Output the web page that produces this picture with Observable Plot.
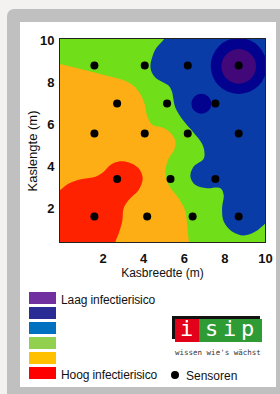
<!DOCTYPE html>
<html>
<head>
<meta charset="utf-8">
<script src="https://cdn.jsdelivr.net/npm/d3@7"></script>
<script src="https://cdn.jsdelivr.net/npm/@observablehq/plot@0.6"></script>
<style>
  html, body { margin: 0; padding: 0; background: #f3f2f0; width: 280px; height: 394px; overflow: hidden; font-family: "Liberation Sans", Arial, sans-serif; }
  #frame { position: absolute; left: 7px; top: 9px; width: 290px; height: 400px; background: #c0c0c0; border-radius: 7px; }
  #panel { position: absolute; left: 20px; top: 22px; width: 256px; height: 365px; background: #fff; }
  #chart { position: absolute; left: 0; top: 0; }
  #ytitle { position: absolute; left: 31.7px; top: 151px; width: 0; height: 0; }
  #ytitle span { position: absolute; left: 0; top: 0; transform: translate(-50%, -50%) rotate(-90deg); font-size: 13px; color: #111; white-space: nowrap; line-height: 13px; }
  .sw { position: absolute; left: 29px; width: 27px; height: 12px; }
  .lt { position: absolute; left: 61px; font-size: 12px; color: #111; white-space: nowrap; line-height: 12px; letter-spacing: -0.1px; }
  #logoShadow { position: absolute; left: 172px; top: 316px; width: 88px; height: 23px; background: #111; }
  .lbox { position: absolute; top: 319px; height: 23px; }
  .lch { position: absolute; top: 316px; font-family: "DejaVu Sans Mono", monospace; font-size: 22px; color: #fff; line-height: 26px; }
  #tag { position: absolute; left: 175px; top: 348px; font-family: "DejaVu Sans Mono", monospace; font-size: 7.5px; color: #333; white-space: nowrap; line-height: 9px; }
  #sdot { position: absolute; left: 171px; top: 371px; width: 8px; height: 8px; border-radius: 50%; background: #000; }
  #stxt { position: absolute; left: 186px; top: 370px; font-size: 12px; color: #111; line-height: 12px; }
</style>
</head>
<body>
<div id="frame"></div>
<div id="panel"></div>
<div id="chart"></div>
<div id="ytitle"><span></span></div>
<div id="legend"></div>
<script>
// Sensor positions (m)
const sensorX = [1.57, 4.05, 6.17, 8.68, 2.69, 5.15, 7.53, 1.57, 4.05, 6.17, 8.68, 2.69, 5.32, 7.53, 1.57, 4.17, 6.41, 8.68];
const sensorY = [8.84, 8.84, 8.84, 8.84, 7.03, 7.03, 7.03, 5.60, 5.60, 5.60, 5.60, 3.43, 3.43, 3.43, 1.64, 1.64, 1.64, 1.64];

// Risk zone boundaries (m)
const orangeZone = [
  [-0.35, 8.97], [0.64, 8.73], [1.62, 8.50], [2.44, 8.29], [3.10, 8.10], [3.51, 7.86], [3.84, 7.46],
  [4.05, 6.99], [4.17, 6.43], [4.41, 6.03], [4.91, 5.88], [5.32, 5.64], [5.56, 5.22], [5.49, 4.80],
  [5.23, 4.41], [5.07, 3.78], [5.23, 3.14], [5.72, 2.51], [6.05, 1.88], [6.14, 1.24], [6.22, 0.45],
  [6.25, 0.03], [6.28, -0.6], [6.3, -1.5], [-1.5, -1.5], [-1.5, 9.2]
];
const redZone = [
  [-0.35, 2.75], [0.31, 3.22], [0.97, 3.43], [1.62, 3.54], [2.03, 3.78], [2.36, 4.10], [2.77, 4.26],
  [3.26, 4.22], [3.75, 3.94], [3.95, 3.46], [3.75, 2.90], [3.26, 2.43], [3.01, 2.03], [2.94, 1.40],
  [2.77, 0.84], [2.61, 0.45], [2.51, 0.03], [2.46, -0.6], [2.4, -1.5], [-1.5, -1.5], [-1.5, 2.3]
];
const blueZone = [
  [5.17, 10.51], [5.02, 10.13], [4.60, 9.65], [4.41, 9.21], [4.33, 8.81], [4.40, 8.51], [4.58, 8.26],
  [4.92, 8.06], [5.22, 7.89], [5.39, 7.60], [5.45, 7.30], [5.56, 6.83], [5.97, 6.19], [6.46, 5.64],
  [6.79, 5.24], [6.96, 4.89], [6.96, 4.41], [6.46, 4.02], [6.30, 3.54], [6.55, 3.14], [7.12, 2.99],
  [7.78, 2.99], [7.94, 2.67], [7.86, 2.03], [7.94, 1.40], [8.35, 0.92], [8.93, 0.73], [9.50, 0.92],
  [9.91, 1.24], [10.34, 1.60], [11.5, 2.0], [11.5, 11.5], [5.3, 11.5]
];
const navySpots = [[8.68, 8.82], [6.84, 7.02]];
const purpleSpots = [[8.68, 8.80]];

const xTicks = [2, 4, 6, 8, 10];
const yTicks = [2, 4, 6, 8, 10];
const xTitle = "Kasbreedte (m)";
const yTitle = "Kaslengte (m)";

const legendColors = ["#7030a0", "#2b2b96", "#0070c0", "#92d050", "#ffc000", "#ff0000"];
const legendLabels = ["Laag infectierisico", "", "", "", "", "Hoog infectierisico"];
const sensorLabel = "Sensoren";
const logoLetters = ["i", "s", "i", "p"];
const logoTagline = "wissen wie's wächst";

const sensors = sensorX.map((x, i) => ({x, y: sensorY[i]}));

const chart = Plot.plot({
  width: 280,
  height: 290,
  marginLeft: 59,
  marginRight: 15,
  marginTop: 38,
  marginBottom: 48,
  style: {background: "transparent", fontFamily: "'Liberation Sans', Arial, sans-serif", color: "#111"},
  x: {domain: [-0.15, 10]},
  y: {domain: [0.4, 10.13]},
  marks: [
    Plot.frame({fill: "#70de18", stroke: "none"}),
    Plot.line(orangeZone, {x: d => d[0], y: d => d[1], curve: "catmull-rom-closed", fill: "#fdae14", stroke: "none", clip: true}),
    Plot.line(redZone, {x: d => d[0], y: d => d[1], curve: "catmull-rom-closed", fill: "#ff2200", stroke: "none", clip: true}),
    Plot.line(blueZone, {x: d => d[0], y: d => d[1], curve: "catmull-rom-closed", fill: "#0a3ca8", stroke: "none", clip: true}),
    Plot.dot(navySpots.slice(0, 1), {x: d => d[0], y: d => d[1], r: 28, fill: "#02028f", stroke: "none", clip: true}),
    Plot.dot(navySpots.slice(1), {x: d => d[0], y: d => d[1], r: 10, fill: "#02028f", stroke: "none", clip: true}),
    Plot.dot(purpleSpots, {x: d => d[0], y: d => d[1], r: 17.3, fill: "#42087a", stroke: "none", clip: true}),
    Plot.dot(sensors, {x: "x", y: "y", r: 4, fill: "#000", stroke: "none"}),
    Plot.frame({stroke: "#222", strokeWidth: 1}),
    Plot.axisX({ticks: xTicks, tickSize: 0, tickPadding: 11, fontWeight: "bold", fontSize: 13, label: null}),
    Plot.axisY({ticks: yTicks, tickSize: 0, tickPadding: 5, fontWeight: "bold", fontSize: 13, label: null}),
    Plot.text([xTitle], {frameAnchor: "bottom", dy: 34.7, text: d => d, fontSize: 12})
  ]
});
document.getElementById("chart").appendChild(chart);
document.querySelector("#ytitle span").textContent = yTitle;

// Legend
const legend = document.getElementById("legend");
legendColors.forEach((c, i) => {
  const sw = document.createElement("div");
  sw.className = "sw";
  sw.style.top = (292 + i * 15) + "px";
  sw.style.background = c;
  legend.appendChild(sw);
  if (legendLabels[i]) {
    const t = document.createElement("div");
    t.className = "lt";
    t.style.top = (293.5 + i * 15) + "px";
    t.textContent = legendLabels[i];
    legend.appendChild(t);
  }
});
// Logo
const shadow = document.createElement("div"); shadow.id = "logoShadow"; legend.appendChild(shadow);
const red = document.createElement("div"); red.className = "lbox"; red.style.left = "175px"; red.style.width = "24px"; red.style.background = "#e2001a"; legend.appendChild(red);
const grn = document.createElement("div"); grn.className = "lbox"; grn.style.left = "199px"; grn.style.width = "63px"; grn.style.background = "#2e9b35"; legend.appendChild(grn);
const letterX = [180, 205, 223, 241];
logoLetters.forEach((ch, i) => {
  const s = document.createElement("div"); s.className = "lch"; s.style.left = letterX[i] + "px"; s.textContent = ch; legend.appendChild(s);
});
const tag = document.createElement("div"); tag.id = "tag"; tag.textContent = logoTagline; legend.appendChild(tag);
const sd = document.createElement("div"); sd.id = "sdot"; legend.appendChild(sd);
const st = document.createElement("div"); st.id = "stxt"; st.textContent = sensorLabel; legend.appendChild(st);
</script>
</body>
</html>
